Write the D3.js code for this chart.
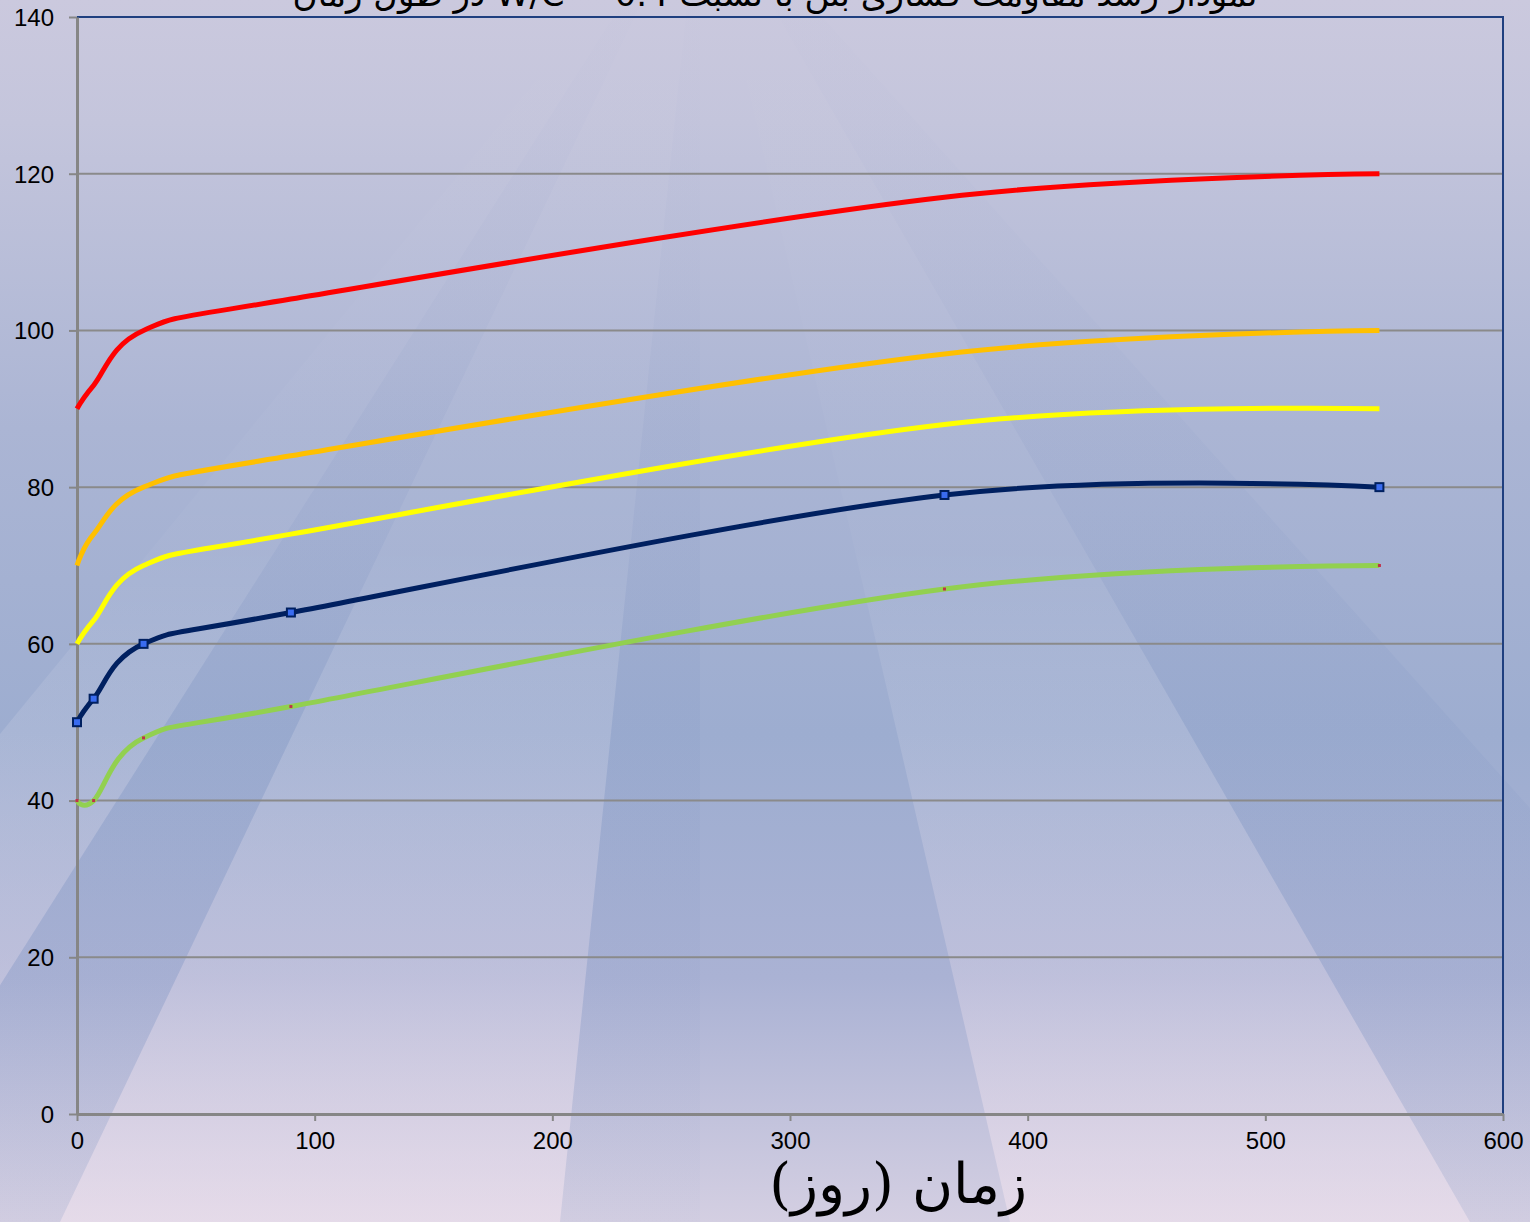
<!DOCTYPE html>
<html><head><meta charset="utf-8">
<script src="https://cdn.jsdelivr.net/npm/d3@7"></script>
<style>html,body{margin:0;padding:0;overflow:hidden;}svg{display:block;}</style>
</head><body>
<script>
const days = [0, 7, 28, 90, 365, 548];
const seriesRed = [90, 93, 100, 104, 117, 120];
const seriesOrange = [70, 74, 80, 84, 97, 100];
const seriesYellow = [60, 63, 70, 74, 88, 90];
const seriesNavy = [50, 53, 60, 64, 79, 80];
const seriesGreen = [40, 40, 48, 52, 67, 70];
const xTicks = [0, 100, 200, 300, 400, 500, 600];
const yTicks = [0, 20, 40, 60, 80, 100, 120, 140];
const titleText = "نمودار رشد مقاومت فشاری بتن با نسبت W/C = 0.4 در طول زمان";
const xLabel = "زمان (روز)";

const W = 1530, H = 1222;
const svg = d3.select("body").append("svg").attr("width", W).attr("height", H);
const defs = svg.append("defs");
const bg = defs.append("linearGradient").attr("id","bg").attr("x1",0).attr("y1",0).attr("x2",0).attr("y2",1);
[[0,"#cbc9de"],[0.1,"#c4c5dc"],[0.35,"#abb5d4"],[0.6,"#9dadd0"],[0.8,"#aab2d4"],[1,"#d4cfe2"]].forEach(s=>bg.append("stop").attr("offset",s[0]).attr("stop-color",s[1]));
svg.append("rect").attr("width",W).attr("height",H).attr("fill","url(#bg)");

// perspective rays
const ray = defs.append("linearGradient").attr("id","ray").attr("x1",0).attr("y1",0).attr("x2",0).attr("y2",1);
[[0,"#ffffff",0],[0.5,"#ffffff",0.03],[0.8,"#f6e6f0",0.25],[1,"#f6e6f0",0.5]].forEach(s=>ray.append("stop").attr("offset",s[0]).attr("stop-color",s[1]).attr("stop-opacity",s[2]));
const vp = [700, -120];
const rays = [[60, 560], [1010, 1470], [-400, -150]];
rays.forEach(r=>{
  svg.append("path").attr("d",`M${vp[0]},${vp[1]}L${r[0]},${H}L${r[1]},${H}Z`).attr("fill","url(#ray)");
});
const dray = defs.append("linearGradient").attr("id","dray").attr("x1",0).attr("y1",0).attr("x2",0).attr("y2",1);
[[0,"#6d86bb",0],[0.3,"#6d86bb",0.03],[0.6,"#6d86bb",0.1],[1,"#6d86bb",0.03]].forEach(s=>dray.append("stop").attr("offset",s[0]).attr("stop-color",s[1]).attr("stop-opacity",s[2]));
[[-150, 60],[560, 700],[1470, 1900]].forEach(r=>{
  svg.append("path").attr("d",`M${vp[0]},${vp[1]}L${r[0]},${H}L${r[1]},${H}Z`).attr("fill","url(#dray)");
});

const L = 77, R = 1503, T = 17, B = 1114;
const x = d3.scaleLinear().domain([0,600]).range([L,R]);
const y = d3.scaleLinear().domain([0,140]).range([B,T]);

// gridlines
svg.append("g").selectAll("line").data(yTicks.filter(v=>v>0 && v<140)).join("line")
  .attr("x1",L).attr("x2",R).attr("y1",d=>y(d)).attr("y2",d=>y(d))
  .attr("stroke","#8a8a8a").attr("stroke-width",2);

// plot border top/right
svg.append("path").attr("d",`M${L},${T}H${R}V${B}`).attr("fill","none").attr("stroke","#1f3f7f").attr("stroke-width",2);

// axes
const fontFam = "'Liberation Sans', Arial, sans-serif";
const gx = svg.append("g").attr("transform",`translate(0,${B})`)
  .call(d3.axisBottom(x).tickValues(xTicks).tickSize(7).tickPadding(11).tickSizeOuter(0));
const gy = svg.append("g").attr("transform",`translate(${L},0)`)
  .call(d3.axisLeft(y).tickValues(yTicks).tickSize(8).tickPadding(15).tickSizeOuter(0));
[gx,gy].forEach(g=>{
  g.select(".domain").attr("stroke","#868686").attr("stroke-width",3);
  g.selectAll(".tick line").attr("stroke","#868686").attr("stroke-width",2);
  g.selectAll("text").attr("fill","#000").attr("font-family",fontFam).attr("font-size",24);
});
gy.selectAll("text").attr("dy","0.35em");

// series
const line = d3.line().x((d,i)=>x(days[i])).y(d=>y(d)).curve(d3.curveCatmullRom.alpha(0));
const series = [
  {v: seriesGreen, c:"#92d050"},
  {v: seriesNavy, c:"#002060"},
  {v: seriesYellow, c:"#ffff00"},
  {v: seriesOrange, c:"#ffc000"},
  {v: seriesRed, c:"#ff0000"}
];
series.forEach(s=>{
  svg.append("path").attr("d",line(s.v)).attr("fill","none").attr("stroke",s.c).attr("stroke-width",5).attr("stroke-linejoin","round");
});
// navy markers
svg.append("g").selectAll("rect").data(seriesNavy).join("rect")
  .attr("x",(d,i)=>x(days[i])-4).attr("y",d=>y(d)-4).attr("width",8).attr("height",8)
  .attr("fill","#3a6cf0").attr("stroke","#002060").attr("stroke-width",2);
svg.append("g").selectAll("rect").data(seriesGreen).join("rect")
  .attr("x",(d,i)=>x(days[i])-1.5).attr("y",d=>y(d)-1.5).attr("width",3).attr("height",3)
  .attr("fill","#c0304a");

// title (cut off at top, as in the reference)
svg.append("text").attr("x",775).attr("y",6).attr("text-anchor","middle")
  .attr("font-family","'DejaVu Sans', 'Noto Sans', sans-serif").attr("font-size",34).attr("fill","#000")
  .attr("direction","rtl").text(titleText);

// x label
svg.append("text").attr("x",898).attr("y",1203).attr("text-anchor","middle")
  .attr("font-family","'DejaVu Serif', 'Liberation Serif', serif").attr("font-size",56).attr("fill","#000")
  .attr("direction","rtl").text(xLabel);
</script>
</body></html>
